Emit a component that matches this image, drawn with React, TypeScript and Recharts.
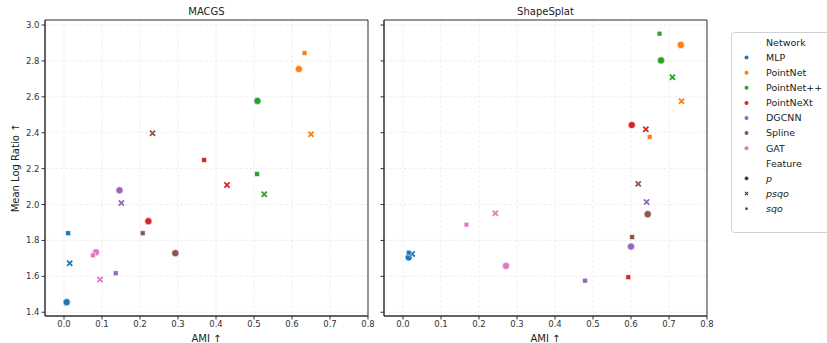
import { ScatterChart, Scatter, XAxis, YAxis, CartesianGrid, ReferenceArea } from 'recharts';

const networks = ['MLP', 'PointNet', 'PointNet++', 'PointNeXt', 'DGCNN', 'Spline', 'GAT'];
const colors = ['#1f77b4', '#ff7f0e', '#2ca02c', '#d62728', '#9467bd', '#8c564b', '#e377c2'];
const features = ['p', 'psqo', 'sqo'];

// MACGS: AMI and mean log ratio per network, one array per feature
const macgsAmiP = [0.007, 0.618, 0.509, 0.222, 0.146, 0.293, 0.084];
const macgsAmiPsqo = [0.015, 0.65, 0.527, 0.429, 0.151, 0.233, 0.095];
const macgsAmiSqo = [0.011, 0.633, 0.508, 0.369, 0.136, 0.207, 0.076];
const macgsLogP = [1.456, 2.755, 2.577, 1.907, 2.079, 1.729, 1.734];
const macgsLogPsqo = [1.673, 2.391, 2.057, 2.109, 2.009, 2.397, 1.582];
const macgsLogSqo = [1.84, 2.844, 2.17, 2.248, 1.617, 1.84, 1.717];

// ShapeSplat
const splatAmiP = [0.015, 0.731, 0.679, 0.602, 0.6, 0.644, 0.271];
const splatAmiPsqo = [0.024, 0.733, 0.709, 0.639, 0.641, 0.619, 0.243];
const splatAmiSqo = [0.015, 0.649, 0.675, 0.593, 0.479, 0.603, 0.167];
const splatLogP = [1.706, 2.889, 2.803, 2.443, 1.766, 1.946, 1.658];
const splatLogPsqo = [1.725, 2.575, 2.709, 2.419, 2.014, 2.115, 1.951];
const splatLogSqo = [1.732, 2.376, 2.952, 1.595, 1.576, 1.819, 1.888];

const xTicks = [0, 0.1, 0.2, 0.3, 0.4, 0.5, 0.6, 0.7, 0.8];
const yTicks = [1.4, 1.6, 1.8, 2.0, 2.2, 2.4, 2.6, 2.8, 3.0];
const xDomain: [number, number] = [-0.05, 0.8];
const yDomain: [number, number] = [1.379, 3.028];

type Pt = { x: number; y: number; net: number; feat: string };

function buildRows(ams: number[][], logs: number[][]): Pt[] {
  const rows: Pt[] = [];
  features.forEach((f, fi) => {
    networks.forEach((_, ni) => {
      rows.push({ x: ams[fi][ni], y: logs[fi][ni], net: ni, feat: f });
    });
  });
  return rows;
}

const macgsRows = buildRows(
  [macgsAmiP, macgsAmiPsqo, macgsAmiSqo],
  [macgsLogP, macgsLogPsqo, macgsLogSqo]
);
const splatRows = buildRows(
  [splatAmiP, splatAmiPsqo, splatAmiSqo],
  [splatLogP, splatLogPsqo, splatLogSqo]
);

function Mark({ cx, cy, color, feat, scale = 1 }: { cx: number; cy: number; color: string; feat: string; scale?: number }) {
  if (feat === 'p') {
    return <circle cx={cx} cy={cy} r={3.6 * scale} fill={color} stroke="#fff" strokeWidth={0.6} />;
  }
  if (feat === 'sqo') {
    const s = 2.4 * scale;
    return <rect x={cx - s} y={cy - s} width={s * 2} height={s * 2} fill={color} stroke="#fff" strokeWidth={0.5} />;
  }
  const d = 2.6 * scale;
  const path = `M${cx - d},${cy - d}L${cx + d},${cy + d}M${cx - d},${cy + d}L${cx + d},${cy - d}`;
  return (
    <g>
      <path d={path} stroke="#fff" strokeWidth={2.8 * scale} strokeLinecap="butt" />
      <path d={path} stroke={color} strokeWidth={1.8 * scale} strokeLinecap="butt" />
    </g>
  );
}

const renderShape = (props: any) => {
  const { cx, cy, payload } = props;
  return <Mark cx={cx} cy={cy} color={colors[payload.net]} feat={payload.feat} />;
};

const tickStyle = { fontSize: 8.5, fill: '#333', fontFamily: 'DejaVu Sans' };
const labelStyle = { fontSize: 10, fill: '#222', fontFamily: 'DejaVu Sans' };

function Panel({ title, rows, showY }: { title: string; rows: Pt[]; showY: boolean }) {
  const yw = showY ? 45 : 4;
  return (
    <ScatterChart width={368 - 45 + yw + 12} height={343} margin={{ top: 20, right: 12, bottom: 0, left: 0 }}>
      <CartesianGrid stroke="#e4e4e4" strokeDasharray="3 2" strokeWidth={0.6} />
      <XAxis
        type="number"
        dataKey="x"
        domain={xDomain}
        ticks={xTicks}
        allowDataOverflow
        tickFormatter={(v: number) => v.toFixed(1)}
        tick={tickStyle}
        tickSize={3.5}
        tickMargin={1}
        height={27}
        stroke="#333"
        label={{ value: 'AMI ↑', position: 'insideBottom', offset: 1, style: labelStyle }}
      />
      <YAxis
        type="number"
        dataKey="y"
        domain={yDomain}
        ticks={yTicks}
        allowDataOverflow
        width={yw}
        tickFormatter={(v: number) => (showY ? v.toFixed(1) : '')}
        tick={tickStyle}
        tickSize={3.5}
        tickMargin={2}
        stroke="#333"
        label={
          showY
            ? { value: 'Mean Log Ratio ↑', angle: -90, position: 'insideLeft', offset: 15, style: { ...labelStyle, textAnchor: 'middle' } }
            : undefined
        }
      />
      <ReferenceArea
        x1={xDomain[0]}
        x2={xDomain[1]}
        y1={yDomain[0]}
        y2={yDomain[1]}
        fill="none"
        stroke="#333"
        strokeWidth={1}
        fillOpacity={0}
        label={{ value: title, position: 'top', offset: 5, style: labelStyle }}
      />
      <Scatter data={rows} shape={renderShape} isAnimationActive={false} />
    </ScatterChart>
  );
}

function LegendBox() {
  const rowH = 15.1;
  const items: { label: string; kind: 'title' | 'net' | 'feat'; idx: number }[] = [
    { label: 'Network', kind: 'title', idx: 0 },
    ...networks.map((n, i) => ({ label: n, kind: 'net' as const, idx: i })),
    { label: 'Feature', kind: 'title', idx: 0 },
    ...features.map((f, i) => ({ label: f, kind: 'feat' as const, idx: i })),
  ];
  return (
    <svg width={100} height={205} style={{ position: 'absolute', left: 731, top: 32 }}>
      <rect x={0.5} y={0.5} width={110} height={200} rx={3} fill="#fff" stroke="#d0d0d0" />
      {items.map((it, i) => {
        const y = 10.5 + i * rowH;
        return (
          <g key={i}>
            {it.kind === 'net' && <circle cx={15.5} cy={y} r={2} fill={colors[it.idx]} />}
            {it.kind === 'feat' && <Mark cx={15.5} cy={y} color="#333" feat={it.label} scale={0.6} />}
            <text
              x={35}
              y={y}
              dy="0.35em"
              fontSize={9.5}
              fontFamily="DejaVu Sans"
              fill="#222"
              fontStyle={it.kind === 'feat' ? 'italic' : 'normal'}
            >
              {it.label}
            </text>
          </g>
        );
      })}
    </svg>
  );
}

export default function App() {
  return (
    <div style={{ position: 'absolute', left: 0, top: 0, width: 827, height: 343, background: '#fff' }}>
      <div style={{ position: 'absolute', left: 0, top: 0 }}>
        <Panel title="MACGS" rows={macgsRows} showY />
      </div>
      <div style={{ position: 'absolute', left: 380, top: 0 }}>
        <Panel title="ShapeSplat" rows={splatRows} showY={false} />
      </div>
      <LegendBox />
    </div>
  );
}
